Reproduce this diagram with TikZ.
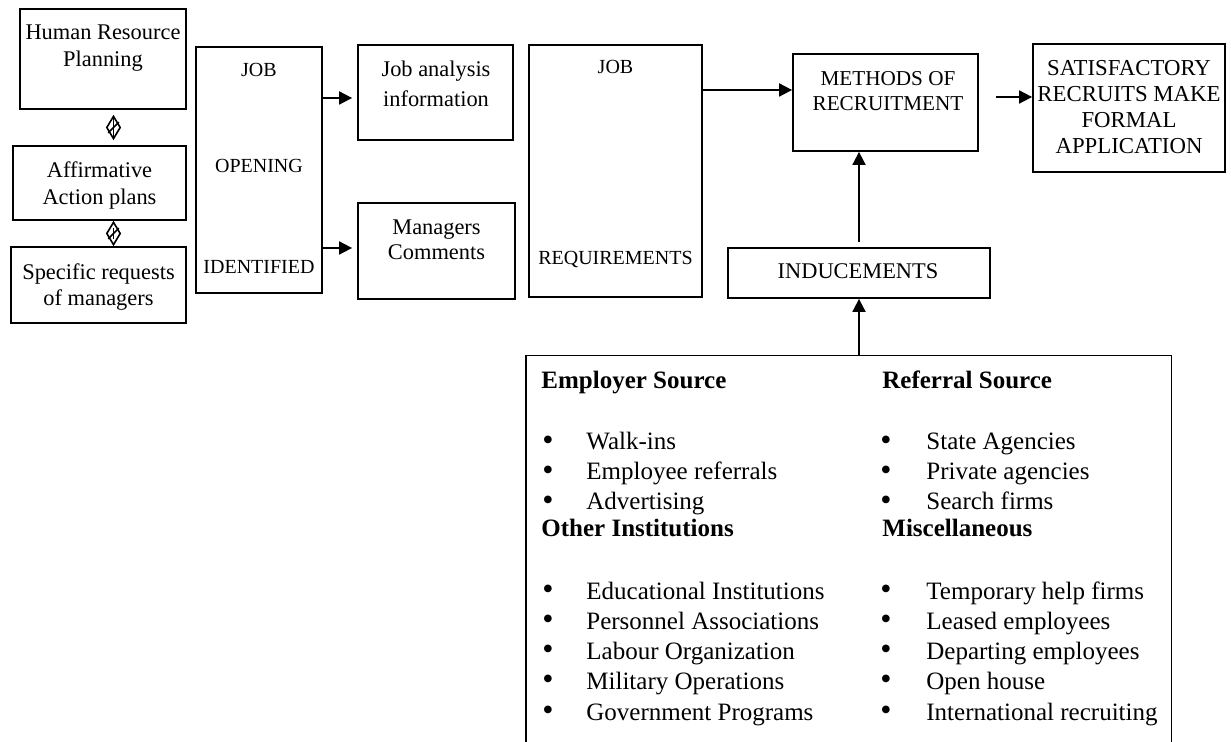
\documentclass[tikz,border=0pt]{standalone}
\usepackage{fontspec}
\setmainfont{Liberation Serif}
\usetikzlibrary{arrows.meta,shapes.geometric,shapes.misc}
\begin{document}
\begin{tikzpicture}[x=0.5pt,y=-0.5pt,
  box/.style={draw, line width=0.9pt, inner sep=0},
  tx/.style={font=\fontsize{11.2}{13.5}\selectfont, align=center, inner sep=0},
  capa/.style={font=\fontsize{10}{12}\selectfont, align=center, inner sep=0},
  hd/.style={font=\fontsize{12.5}{15}\selectfont\bfseries, anchor=base west, inner sep=0},
  itm/.style={font=\fontsize{12.5}{15}\selectfont, anchor=base west, inner sep=0},
  bul/.style={font=\fontsize{16}{16}\selectfont, anchor=center, inner sep=0},
  arr/.style={line width=0.9pt, -{Triangle[length=6.5pt,width=6.5pt]}},
  dsym/.style={line width=0.8pt, shorten <=3.5pt, shorten >=3.5pt},
  dia/.style={draw, diamond, line width=0.8pt, inner sep=0, minimum width=7pt, minimum height=11.5pt},
  crs/.style={draw, cross out, line width=0.8pt, inner sep=0, minimum size=4.5pt}]
\useasboundingbox (0,0) rectangle (1231,742);
% left column
\node[box, minimum width=83pt, minimum height=50pt] (hrp) at (103,59) {};
\node[tx] (hrpt) at (103,48.5) {Human Resource\\Planning};
\node[box, minimum width=86.5pt, minimum height=37pt] (aap) at (99.5,183) {};
\node[tx] (aapt) at (99.5,186) {Affirmative\\Action plans};
\node[box, minimum width=87.5pt, minimum height=38pt] (srm) at (98.5,285) {};
\node[tx, font=\fontsize{11.2}{12.8}\selectfont] (srmt) at (98.5,287) {Specific requests\\of managers};
\coordinate (g1) at (113.5,0);
\draw[dsym] (hrp.south -| g1) -- (aap.north -| g1)
  node[dia, midway] (d1) {} node[crs, midway] (x1) {};
\draw[dsym] (aap.south -| g1) -- (srm.north -| g1)
  node[dia, midway] (d2) {} node[crs, midway] (x2) {};
% job opening
\node[box, minimum width=63pt, minimum height=123pt] (jo) at (259,170) {};
\node[capa] (jo1) at (259,70) {JOB};
\node[capa] (jo2) at (259,166) {OPENING};
\node[capa] (jo3) at (259,267) {IDENTIFIED};
% job analysis / managers comments
\node[box, minimum width=77.5pt, minimum height=47.5pt] (ja) at (435.5,92.5) {};
\node[tx, font=\fontsize{11.2}{15}\selectfont] (jat) at (436,84) {Job analysis\\information};
\node[box, minimum width=78.5pt, minimum height=48pt] (mc) at (436.5,251) {};
\node[tx, font=\fontsize{11.2}{12.5}\selectfont] (mct) at (436.5,240) {Managers\\Comments};
\draw[arr, shorten >=2.5pt] ([yshift=-2.75pt]jo.east |- ja.west) -- ([yshift=-2.75pt]ja.west);
\draw[arr, shorten >=2.5pt] ([yshift=1.5pt]jo.east |- mc.west) -- ([yshift=1.5pt]mc.west);
% job requirements
\node[box, minimum width=86.5pt, minimum height=126pt] (jr) at (615.5,171) {};
\node[capa] (jr1) at (615.5,67) {JOB};
\node[capa] (jr2) at (615.5,260) {REQUIREMENTS};
% methods
\node[box, minimum width=92.5pt, minimum height=48.5pt] (meth) at (885.5,102.5) {};
\node[tx, font=\fontsize{10.6}{12.5}\selectfont] (metht) at (888,91) {METHODS OF\\RECRUITMENT};
\draw[arr] ([yshift=6.25pt]jr.east |- meth.west) -- ([yshift=6.25pt]meth.west);
% satisfactory
\node[box, minimum width=96pt, minimum height=64pt] (sat) at (1129,108) {};
\node[tx, font=\fontsize{11.4}{13}\selectfont] (satt) at (1129,107) {SATISFACTORY\\RECRUITS MAKE\\FORMAL\\APPLICATION};
\draw[arr, shorten <=8.5pt] ([yshift=5.5pt]meth.east |- sat.west) -- ([yshift=5.5pt]sat.west);
% inducements
\node[box, minimum width=131pt, minimum height=25pt] (ind) at (859,273) {};
\node[tx] (indt) at (858,271) {INDUCEMENTS};
\draw[arr, shorten <=2.5pt] (ind.north) -- (ind.north |- meth.south);
% big source box (open at the bottom edge)
\node[inner sep=0, minimum width=322.5pt, minimum height=193pt] (big) at (848.5,549) {};
\draw[line width=0.9pt] (big.south west) |- (big.north east) -- (big.south east);
\draw[arr] (ind.south |- big.north) -- (ind.south);
% left column of sources
\node[hd] (h1) at (541,389) {Employer Source};
\node[bul] (b1) at (548,443) {•}; \node[itm] (i1) at (586,450) {Walk-ins};
\node[bul] (b2) at (548,473) {•}; \node[itm] (i2) at (586,480) {Employee referrals};
\node[bul] (b3) at (548,503) {•}; \node[itm] (i3) at (586,510) {Advertising};
\node[hd] (h2) at (541,537) {Other Institutions};
\node[bul] (b4) at (548,592) {•}; \node[itm] (i4) at (586,599) {Educational Institutions};
\node[bul] (b5) at (548,622) {•}; \node[itm] (i5) at (586,629) {Personnel Associations};
\node[bul] (b6) at (548,652) {•}; \node[itm] (i6) at (586,659) {Labour Organization};
\node[bul] (b7) at (548,682) {•}; \node[itm] (i7) at (586,689) {Military Operations};
\node[bul] (b8) at (548,713) {•}; \node[itm] (i8) at (586,720) {Government Programs};
% right column of sources
\node[hd] (h3) at (882,389) {Referral Source};
\node[bul] (c1) at (886,443) {•}; \node[itm] (j1) at (926,450) {State Agencies};
\node[bul] (c2) at (886,473) {•}; \node[itm] (j2) at (926,480) {Private agencies};
\node[bul] (c3) at (886,503) {•}; \node[itm] (j3) at (926,510) {Search firms};
\node[hd] (h4) at (882,537) {Miscellaneous};
\node[bul] (c4) at (886,592) {•}; \node[itm] (j4) at (926,599) {Temporary help firms};
\node[bul] (c5) at (886,622) {•}; \node[itm] (j5) at (926,629) {Leased employees};
\node[bul] (c6) at (886,652) {•}; \node[itm] (j6) at (926,659) {Departing employees};
\node[bul] (c7) at (886,682) {•}; \node[itm] (j7) at (926,689) {Open house};
\node[bul] (c8) at (886,713) {•}; \node[itm] (j8) at (926,720) {International recruiting};
\end{tikzpicture}
\end{document}
